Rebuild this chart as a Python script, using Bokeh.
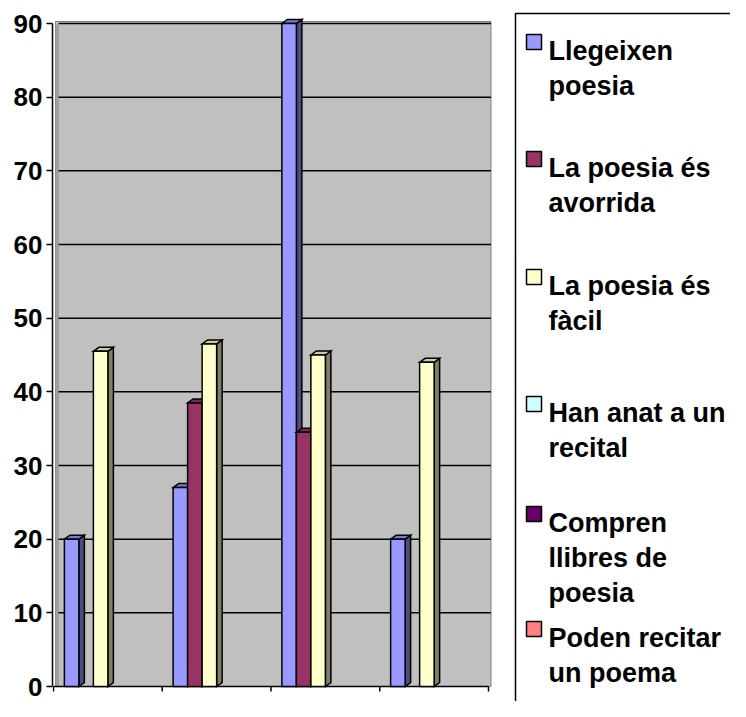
from bokeh.plotting import figure
from bokeh.models import Range1d, FixedTicker
from bokeh.embed import file_html
from bokeh.resources import INLINE
from bokeh.core.properties import value

# ---------------- data ----------------
categories = ["1", "2", "3", "4"]
series_names = [
    "Llegeixen\npoesia",
    "La poesia és\navorrida",
    "La poesia és\nfàcil",
    "Han anat a un\nrecital",
    "Compren\nllibres de\npoesia",
    "Poden recitar\nun poema",
]
llegeixen_poesia = [20, 27, 90, 20]
poesia_avorrida = [0, 38.5, 34.5, 0]
poesia_facil = [45.5, 46.5, 45, 44]
anat_recital = [0, 0, 0, 0]
compren_llibres = [0, 0, 0, 0]
poden_recitar = [0, 0, 0, 0]
y_ticks = [0, 10, 20, 30, 40, 50, 60, 70, 80, 90]

series_values = [llegeixen_poesia, poesia_avorrida, poesia_facil,
                 anat_recital, compren_llibres, poden_recitar]

# ---------------- styles ----------------
front_colors = ["#9999FF", "#993366", "#FFFFCC", "#CCFFFF", "#660066", "#FF8080"]


def shade(hex_color, f):
    h = hex_color.lstrip("#")
    r, g, b = (int(h[i:i + 2], 16) for i in (0, 2, 4))
    return "#%02X%02X%02X" % (int(r * f), int(g * f), int(b * f))


side_colors = [shade(c, 0.5) for c in front_colors]
top_colors = [shade(c, 0.8) for c in front_colors]

FONT = "Liberation Sans"
W, H = 730, 701
FRAME_LEFT = 52
X0_PX = 53.0            # canvas x of category axis start
PX_X = (488.0 - 53.0) / len(categories)
Y0_PX = 686.0           # canvas y of value 0
PX_Y = (686.0 - 23.0) / 90.0


def X(px):
    return (px - X0_PX) / PX_X


def Y(py):
    return (Y0_PX - py) / PX_Y


x_range = Range1d(X(FRAME_LEFT), X(W))
y_range = Range1d(Y(H), Y(0))

p = figure(width=W, height=H, x_range=x_range, y_range=y_range,
           output_backend="svg", toolbar_location=None,
           x_axis_location=None, y_axis_location="left",
           min_border_left=FRAME_LEFT, min_border_right=0,
           min_border_top=0, min_border_bottom=0)
p.outline_line_color = None
p.background_fill_color = "white"
p.border_fill_color = "white"
p.xgrid.grid_line_color = None
p.ygrid.grid_line_color = None

# y axis
ax = p.yaxis[0]
ax.ticker = FixedTicker(ticks=y_ticks)
ax.bounds = (0, 90)
ax.axis_line_color = "black"
ax.axis_line_width = 1.5
ax.major_tick_line_color = "black"
ax.major_tick_line_width = 1.5
ax.major_tick_out = 6
ax.major_tick_in = 0
ax.minor_tick_out = 0
ax.minor_tick_in = 0
ax.major_label_standoff = 4
ax.major_label_text_font = FONT
ax.major_label_text_font_style = "bold"
ax.major_label_text_font_size = "26px"
ax.major_label_text_color = "black"

# wall
p.quad(left=[X(55)], right=[X(490.5)], bottom=[0], top=[Y(21)],
       fill_color="#C0C0C0", line_color="#808080", line_width=1)
p.quad(left=[X(55)], right=[X(58.5)], bottom=[0], top=[Y(24)],
       fill_color="#A0A0A0", line_color=None)

# gridlines
grid_vals = y_ticks[1:]
p.segment(x0=[X(58)] * len(grid_vals), x1=[X(490.5)] * len(grid_vals),
          y0=grid_vals, y1=grid_vals, line_color="black", line_width=1.5)

# category axis
n_cat = len(categories)
p.segment(x0=[0], x1=[n_cat], y0=[0], y1=[0], line_color="black", line_width=1.5)
p.segment(x0=list(range(n_cat + 1)), x1=list(range(n_cat + 1)),
          y0=[0] * (n_cat + 1), y1=[Y(Y0_PX + 5)] * (n_cat + 1),
          line_color="black", line_width=1.5)

# 3D bars
n_ser = len(series_values)
group = 0.8
bw = group / n_ser
dx = 5.5 / PX_X
dy = 4.0 / PX_Y
for s, vals in enumerate(series_values):
    lefts, rights, tops = [], [], []
    side_xs, side_ys, top_xs, top_ys = [], [], [], []
    for c, v in enumerate(vals):
        if v <= 0:
            continue
        l = c + (1 - group) / 2 + s * bw
        r = l + bw
        lefts.append(l)
        rights.append(r)
        tops.append(v)
        side_xs.append([r, r + dx, r + dx, r])
        side_ys.append([0, dy, v + dy, v])
        top_xs.append([l, l + dx, r + dx, r])
        top_ys.append([v, v + dy, v + dy, v])
    if not lefts:
        continue
    p.patches(xs=side_xs, ys=side_ys, fill_color=side_colors[s],
              line_color="black", line_width=1.5, line_join="miter")
    p.patches(xs=top_xs, ys=top_ys, fill_color=top_colors[s],
              line_color="black", line_width=1.5, line_join="miter")
    p.quad(left=lefts, right=rights, bottom=[0] * len(lefts), top=tops,
           fill_color=front_colors[s], line_color="black", line_width=1.5,
           line_join="miter")

# legend (drawn manually)
p.quad(left=[X(515)], right=[X(800)], top=[Y(13)], bottom=[Y(800)],
       fill_color="white", line_color="black", line_width=1.5)
entry_baselines = [50, 167, 285, 412, 522, 637]
line_step = 35
sw = 15
tx, ty, tt = [], [], []
for i, name in enumerate(series_names):
    b = entry_baselines[i]
    p.quad(left=[X(526)], right=[X(526 + sw)], top=[Y(b - 1 - sw)], bottom=[Y(b - 1)],
           fill_color=front_colors[i], line_color="black", line_width=1.5)
    for j, line in enumerate(name.split("\n")):
        tx.append(X(548))
        ty.append(Y(b + j * line_step))
        tt.append(line)
p.text(x=tx, y=ty, text=tt, text_font=value(FONT), text_font_style="bold",
       text_font_size="27px", text_color="black", text_align="left",
       text_baseline="alphabetic")

open("out.html", "w").write(file_html(p, INLINE))
